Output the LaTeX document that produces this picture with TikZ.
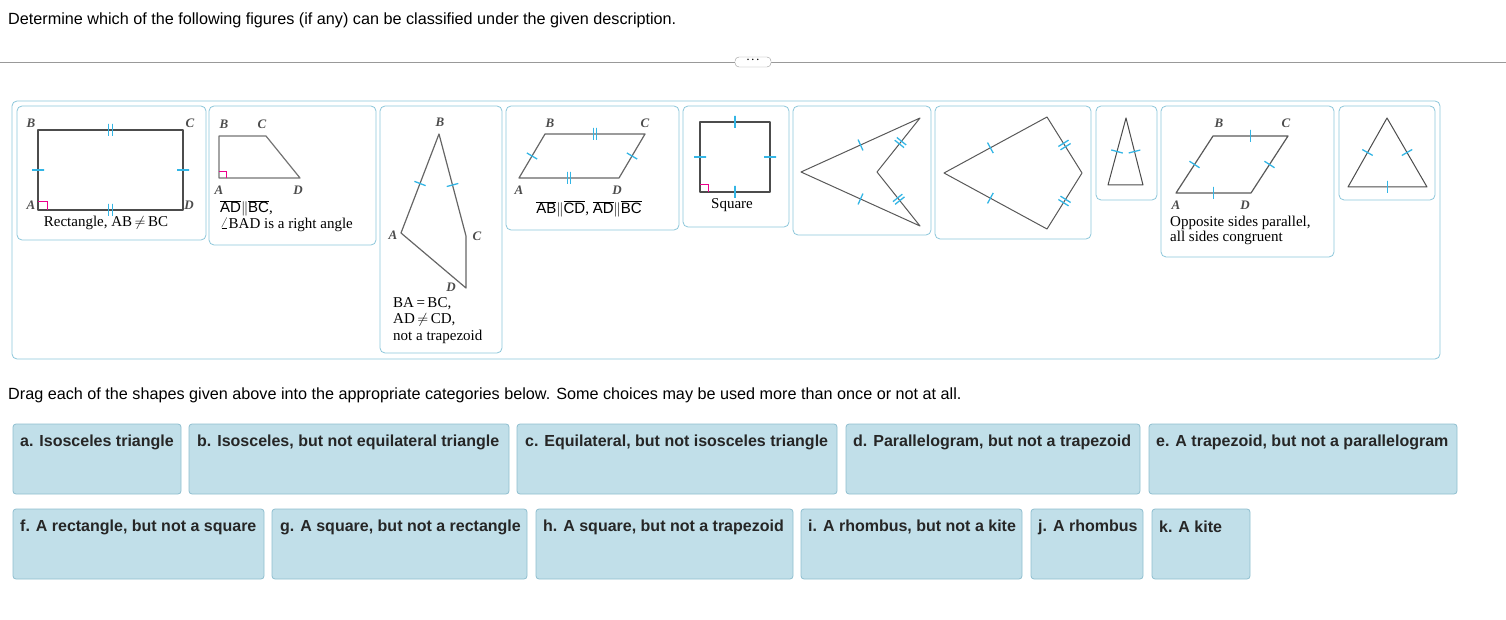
\documentclass[tikz,border=0pt]{standalone}
\usepackage{fontspec}
\setmainfont{Liberation Sans}
\newfontfamily\ser{Liberation Serif}
\begin{document}
\begin{tikzpicture}[x=1pt,y=-1pt,
  panel/.style={draw=boxblue,rounded corners=5pt,line width=0.8pt},
  fig/.style={draw=black!70,line width=1.2pt,line join=round},
  tk/.style={sloped,draw=tickblue,line width=1.3pt,inner sep=0pt,minimum width=0pt,minimum height=12pt},
  lab/.style={font=\ser\itshape\bfseries\fontsize{13}{13}\selectfont,text=black!70,inner sep=0pt},
  desc/.style={font=\ser\fontsize{15}{16.5}\selectfont,inner sep=0pt,align=left},
  cat/.style={draw=catborder,fill=catfill,rounded corners=3pt,line width=0.8pt},
  ctext/.style={anchor=west,font=\bfseries\fontsize{16}{18}\selectfont,text=black!85,inner sep=0pt}]
\definecolor{boxblue}{HTML}{8CC6DA}
\definecolor{tickblue}{HTML}{33B5E5}
\definecolor{catfill}{HTML}{C1DFE9}
\definecolor{catborder}{HTML}{8FBFCF}
\useasboundingbox (0,0) rectangle (1506,620);
\node[anchor=west,inner sep=0pt,font=\fontsize{16.2}{18}\selectfont] (title) at (8,20) {Determine which of the following figures (if any) can be classified under the given description.};
\coordinate (sl) at (0,62); \coordinate (sr) at (1506,62);
\draw[gray!80,line width=0.8pt] (sl) -- (sr);
\node[draw=gray!80,fill=white,rounded corners=4pt,minimum width=36pt,minimum height=10pt,inner sep=0pt,font=\bfseries\fontsize{14}{14}\selectfont] (pill) at (753,62) {\raisebox{2.5pt}{$\cdot\!\cdot\!\cdot$}};
% outer panel
\draw[panel] (12,101) rectangle (1440,359);
% 1 rectangle
\draw[panel] (17,106) rectangle (206,240);
\coordinate (rA) at (38,210); \coordinate (rB) at (38,130); \coordinate (rC) at (183,130); \coordinate (rD) at (183,210);
\draw[fig] (rA) -- (rB) -- (rC) -- (rD) -- cycle;
\draw[magenta,line width=0.8pt] (38,201) -- (47,201) -- (47,210);
\path (rA) -- (rB) node[tk,pos=.5]{}; \path (rD) -- (rC) node[tk,pos=.5]{};
\path (rB) -- (rC) node[tk,pos=.485]{} node[tk,pos=.515]{};
\path (rA) -- (rD) node[tk,pos=.485]{} node[tk,pos=.515]{};
\node[lab] (lrB) at (31,123) {B}; \node[lab] (lrC) at (190,123) {C};
\node[lab] (lrA) at (31,205) {A}; \node[lab] (lrD) at (189,205) {D};
\node[desc] (t1) at (106,223) {Rectangle, AB\,$\neq$\,BC};
% 2 trapezoid
\draw[panel] (209,106) rectangle (376,245);
\coordinate (tA) at (219,178); \coordinate (tB) at (219,136); \coordinate (tC) at (266,136); \coordinate (tD) at (300,178);
\draw[fig,black!55] (tA) -- (tB) -- (tC) -- (tD) -- cycle;
\draw[magenta,line width=0.8pt] (219,171) -- (226,171) -- (226,178);
\node[lab] (ltB) at (224,124) {B}; \node[lab] (ltC) at (262,124) {C};
\node[lab] (ltA) at (219,190) {A}; \node[lab] (ltD) at (298,190) {D};
\node[desc,anchor=north west] (t2) at (220,200) {$\overline{\mathrm{AD}}\|\overline{\mathrm{BC}}$,\\[-1pt]$\angle$BAD is a right angle};
% 3 kite-like
\draw[panel] (380,106) rectangle (502,353);
\coordinate (kB) at (439,134); \coordinate (kA) at (401,233); \coordinate (kD) at (466,288); \coordinate (kC) at (466,236);
\draw[fig,black!60] (kB) -- (kA) -- (kD) -- (kC) -- cycle;
\path (kA) -- (kB) node[tk,pos=.5]{}; \path (kB) -- (kC) node[tk,pos=.5]{};
\node[lab] (lkB) at (440,122) {B}; \node[lab] (lkA) at (393,235) {A};
\node[lab] (lkC) at (477,236) {C}; \node[lab] (lkD) at (451,287) {D};
\node[desc,anchor=north west] (t3) at (393,297) {BA\,=\,BC,\\AD\,$\neq$\,CD,\\not a trapezoid};
% 4 parallelogram
\draw[panel] (506,106) rectangle (679,230);
\coordinate (pA) at (519,178); \coordinate (pB) at (545,134); \coordinate (pC) at (645,134); \coordinate (pD) at (619,178);
\draw[fig,black!60] (pA) -- (pB) -- (pC) -- (pD) -- cycle;
\path (pA) -- (pB) node[tk,pos=.5]{}; \path (pD) -- (pC) node[tk,pos=.5]{};
\path (pB) -- (pC) node[tk,pos=.485]{} node[tk,pos=.515]{};
\path (pA) -- (pD) node[tk,pos=.485]{} node[tk,pos=.515]{};
\node[lab] (lpB) at (550,123) {B}; \node[lab] (lpC) at (645,123) {C};
\node[lab] (lpA) at (519,190) {A}; \node[lab] (lpD) at (617,190) {D};
\node[desc] (t4) at (589,209) {$\overline{\mathrm{AB}}\|\overline{\mathrm{CD}}$, $\overline{\mathrm{AD}}\|\overline{\mathrm{BC}}$};
% 5 square
\draw[panel] (683,106) rectangle (789,227);
\coordinate (sA) at (700,192); \coordinate (sB) at (700,122); \coordinate (sC) at (770,122); \coordinate (sD) at (770,192);
\draw[fig] (sA) -- (sB) -- (sC) -- (sD) -- cycle;
\draw[magenta,line width=0.8pt] (700,184) -- (708,184) -- (708,192);
\path (sA) -- (sB) node[tk,pos=.5]{}; \path (sB) -- (sC) node[tk,pos=.5]{};
\path (sD) -- (sC) node[tk,pos=.5]{}; \path (sA) -- (sD) node[tk,pos=.5]{};
\node[desc] (t5) at (732,205) {Square};
% 6 dart
\draw[panel] (793,106) rectangle (931,235);
\coordinate (d1) at (920,118); \coordinate (d2) at (801,172); \coordinate (d3) at (920,226); \coordinate (d4) at (877,172);
\draw[fig,black!65,line width=1pt] (d1) -- (d2) -- (d3) -- (d4) -- cycle;
\path (d2) -- (d1) node[tk,pos=.5]{}; \path (d2) -- (d3) node[tk,pos=.5]{};
\path (d4) -- (d1) node[tk,pos=.52]{} node[tk,pos=.57]{};
\path (d4) -- (d3) node[tk,pos=.48]{} node[tk,pos=.53]{};
% 7 kite
\draw[panel] (935,106) rectangle (1091,239);
\coordinate (e1) at (1047,117); \coordinate (e2) at (1082,173); \coordinate (e3) at (1047,229); \coordinate (e4) at (944,173);
\draw[fig,black!65,line width=1pt] (e1) -- (e2) -- (e3) -- (e4) -- cycle;
\path (e4) -- (e1) node[tk,pos=.45]{}; \path (e4) -- (e3) node[tk,pos=.45]{};
\path (e1) -- (e2) node[tk,pos=.47]{} node[tk,pos=.53]{};
\path (e3) -- (e2) node[tk,pos=.47]{} node[tk,pos=.53]{};
% 8 isosceles triangle
\draw[panel] (1096,106) rectangle (1157,200);
\coordinate (i1) at (1126,118); \coordinate (i2) at (1108,185); \coordinate (i3) at (1143,185);
\draw[fig,black!70,line width=1pt] (i1) -- (i2) -- (i3) -- cycle;
\path (i2) -- (i1) node[tk,pos=.5]{}; \path (i3) -- (i1) node[tk,pos=.5]{};
% 9 rhombus
\draw[panel] (1161,106) rectangle (1334,257);
\coordinate (hA) at (1176,193); \coordinate (hB) at (1213,136); \coordinate (hC) at (1288,136); \coordinate (hD) at (1251,193);
\draw[fig,black!65] (hA) -- (hB) -- (hC) -- (hD) -- cycle;
\path (hA) -- (hB) node[tk,pos=.5]{}; \path (hB) -- (hC) node[tk,pos=.5]{};
\path (hD) -- (hC) node[tk,pos=.5]{}; \path (hA) -- (hD) node[tk,pos=.5]{};
\node[lab] (lhB) at (1219,123) {B}; \node[lab] (lhC) at (1286,123) {C};
\node[lab] (lhA) at (1176,205) {A}; \node[lab] (lhD) at (1245,205) {D};
\node[desc,anchor=north west] (t9) at (1170,216) {Opposite sides parallel,\\[-2pt]all sides congruent};
% 10 equilateral
\draw[panel] (1339,106) rectangle (1435,200);
\coordinate (q1) at (1387,118); \coordinate (q2) at (1348,187); \coordinate (q3) at (1427,187);
\draw[fig,black!70,line width=1pt] (q1) -- (q2) -- (q3) -- cycle;
\path (q2) -- (q1) node[tk,pos=.5]{}; \path (q3) -- (q1) node[tk,pos=.5]{}; \path (q2) -- (q3) node[tk,pos=.5]{};
% instructions
\node[anchor=west,inner sep=0pt,font=\fontsize{16.2}{18}\selectfont] (instr) at (8,395) {Drag each of the shapes given above into the appropriate categories below. Some choices may be used more than once or not at all.};
% categories
\draw[cat] (13,424) rectangle (181,494);  \node[ctext] (ca) at (20,442) {a. Isosceles triangle};
\draw[cat] (189,424) rectangle (509,494); \node[ctext] (cb) at (197,442) {b. Isosceles, but not equilateral triangle};
\draw[cat] (517,424) rectangle (837,494); \node[ctext] (cc) at (525,442) {c. Equilateral, but not isosceles triangle};
\draw[cat] (846,424) rectangle (1140,494); \node[ctext] (cd) at (853,442) {d. Parallelogram, but not a trapezoid};
\draw[cat] (1149,424) rectangle (1457,494); \node[ctext] (ce) at (1156,442) {e. A trapezoid, but not a parallelogram};
\draw[cat] (13,509) rectangle (264,579); \node[ctext] (cf) at (20,527) {f. A rectangle, but not a square};
\draw[cat] (272,509) rectangle (527,579); \node[ctext] (cg) at (280,527) {g. A square, but not a rectangle};
\draw[cat] (536,509) rectangle (793,579); \node[ctext] (ch) at (543,527) {h. A square, but not a trapezoid};
\draw[cat] (801,509) rectangle (1022,579); \node[ctext] (ci) at (808,527) {i. A rhombus, but not a kite};
\draw[cat] (1031,509) rectangle (1143,579); \node[ctext] (cj) at (1038,527) {j. A rhombus};
\draw[cat] (1152,509) rectangle (1250,579); \node[ctext] (ck) at (1159,527) {k. A kite};
\end{tikzpicture}
\end{document}
